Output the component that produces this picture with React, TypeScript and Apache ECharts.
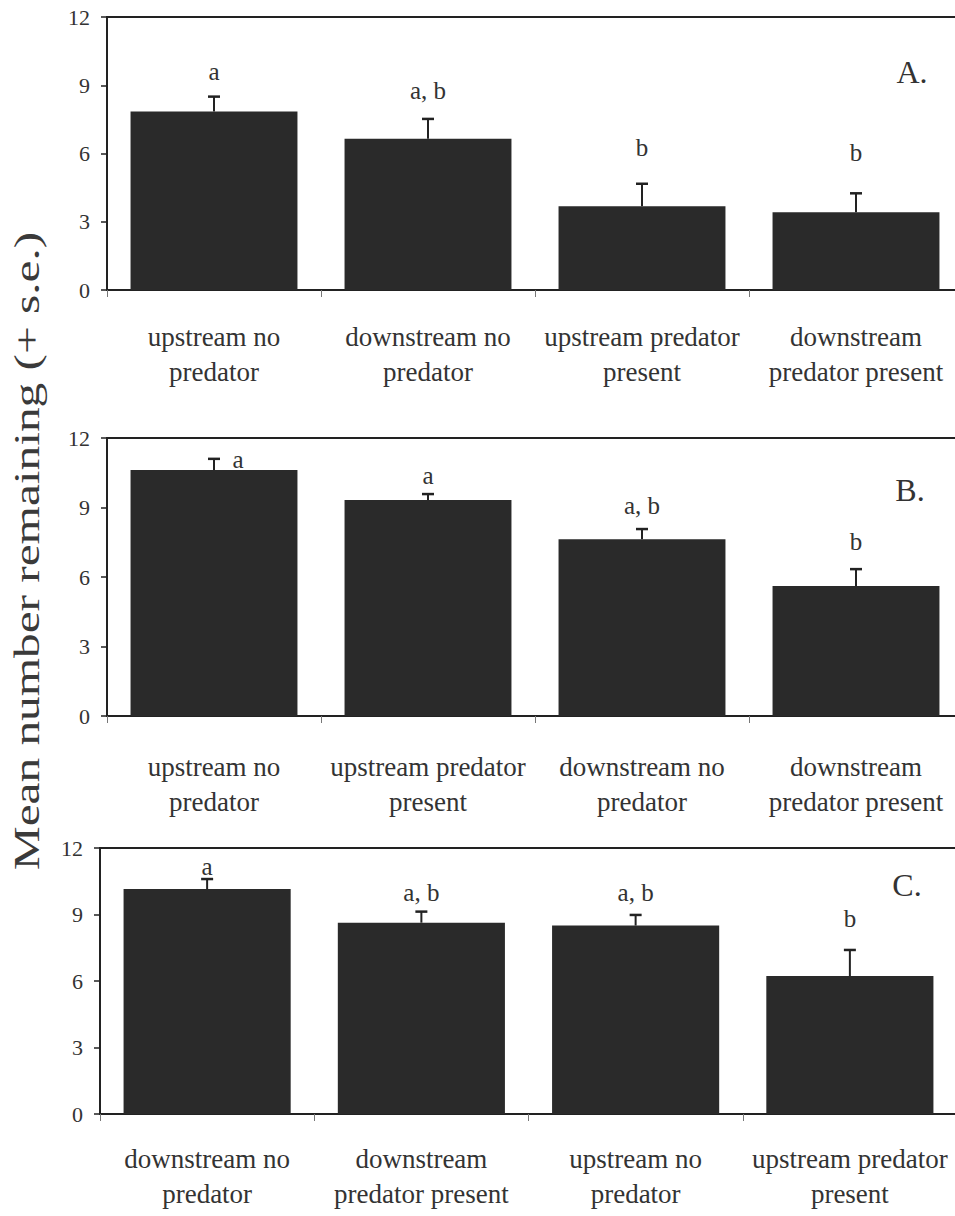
import React, { useEffect, useRef } from "react";
import * as echarts from "echarts";

// ---------- data ----------
const categoriesA = ["upstream no\npredator", "downstream no\npredator", "upstream predator\npresent", "downstream\npredator present"];
const meansA = [7.85, 6.65, 3.68, 3.42];
const seA = [0.65, 0.87, 0.99, 0.83];
const lettersA = ["a", "a, b", "b", "b"];
const letterYA = [9.6, 8.75, 6.25, 6.05];
const besideA = [false, false, false, false];

const categoriesB = ["upstream no\npredator", "upstream predator\npresent", "downstream no\npredator", "downstream\npredator present"];
const meansB = [10.62, 9.32, 7.63, 5.61];
const seB = [0.48, 0.26, 0.44, 0.73];
const lettersB = ["a", "a", "a, b", "b"];
const letterYB = [11.08, 10.4, 9.1, 7.55];
const besideB = [true, false, false, false];

const categoriesC = ["downstream no\npredator", "downstream\npredator present", "upstream no\npredator", "upstream predator\npresent"];
const meansC = [10.15, 8.63, 8.5, 6.22];
const seC = [0.45, 0.5, 0.48, 1.18];
const lettersC = ["a", "a, b", "a, b", "b"];
const letterYC = [11.15, 9.97, 9.97, 8.8];
const besideC = [false, false, false, false];

const panelNames = ["A.", "B.", "C."];
const yTicks = { min: 0, max: 12, interval: 3 };
const yTitle = "Mean number remaining (+ s.e.)";

// ---------- styling ----------
const SERIF = '"Liberation Serif", "Times New Roman", serif';
const TEXT = "#333";
const INK = "#222";
const BAR = "#2a2a2a";

const panels = [
  { cats: categoriesA, means: meansA, se: seA, letters: lettersA, ly: letterYA, beside: besideA, grid: { left: 107, top: 17, width: 856, height: 273 }, labelMargin: 29 },
  { cats: categoriesB, means: meansB, se: seB, letters: lettersB, ly: letterYB, beside: besideB, grid: { left: 107, top: 438, width: 856, height: 278 }, labelMargin: 33 },
  { cats: categoriesC, means: meansC, se: seC, letters: lettersC, ly: letterYC, beside: besideC, grid: { left: 100, top: 848, width: 857, height: 266 }, labelMargin: 27 },
];

export default function App() {
  const ref = useRef<HTMLDivElement>(null);
  useEffect(() => {
    if (!ref.current) return;
    const chart = echarts.init(ref.current, undefined, { renderer: "svg" });

    const grid: any[] = [];
    const xAxis: any[] = [];
    const yAxis: any[] = [];
    const series: any[] = [];

    panels.forEach((p, k) => {
      grid.push({
        ...p.grid,
        show: true,
        borderColor: INK,
        borderWidth: 2,
        backgroundColor: "transparent",
        containLabel: false,
        outerBoundsMode: "none",
      });
      xAxis.push({
        type: "category",
        gridIndex: k,
        data: p.cats,
        boundaryGap: true,
        axisLine: { show: true, lineStyle: { color: INK, width: 2 } },
        axisTick: { show: true, alignWithLabel: false, length: 7, lineStyle: { color: "#777", width: 1 } },
        axisLabel: {
          interval: 0,
          margin: p.labelMargin,
          color: TEXT,
          fontFamily: SERIF,
          fontSize: 27,
          lineHeight: 35,
          align: "center",
        },
        splitLine: { show: false },
      });
      yAxis.push({
        type: "value",
        gridIndex: k,
        min: yTicks.min,
        max: yTicks.max,
        interval: yTicks.interval,
        axisLine: { show: true, lineStyle: { color: INK, width: 2 } },
        axisTick: { show: true, length: 6, lineStyle: { color: INK, width: 1.5 } },
        axisLabel: { margin: 17, color: TEXT, fontFamily: SERIF, fontSize: 22 },
        splitLine: { show: false },
      });
      series.push({
        type: "bar",
        xAxisIndex: k,
        yAxisIndex: k,
        data: p.means,
        barCategoryGap: "22%",
        itemStyle: { color: BAR },
        silent: true,
      });
      series.push({
        type: "custom",
        xAxisIndex: k,
        yAxisIndex: k,
        clip: false,
        silent: true,
        data: p.means.map((m, i) => [i, m, p.se[i], p.ly[i]]),
        encode: { x: 0, y: 1 },
        renderItem: (params: any, api: any) => {
          const i = api.value(0);
          const m = api.value(1);
          const se = api.value(2);
          const ly = api.value(3);
          const base = api.coord([i, m]);
          const top = api.coord([i, m + se]);
          const lab = api.coord([i, ly]);
          const idx = params.dataIndex;
          const beside = p.beside[idx];
          const capHalf = 6;
          return {
            type: "group",
            children: [
              {
                type: "line",
                shape: { x1: base[0], y1: base[1], x2: top[0], y2: top[1] },
                style: { stroke: INK, lineWidth: 2 },
              },
              {
                type: "line",
                shape: { x1: top[0] - capHalf, y1: top[1], x2: top[0] + capHalf, y2: top[1] },
                style: { stroke: INK, lineWidth: 2.5 },
              },
              {
                type: "text",
                x: beside ? top[0] + 24 : lab[0],
                y: lab[1],
                style: {
                  text: p.letters[idx],
                  fill: TEXT,
                  font: `25px ${SERIF}`,
                  align: "center",
                  verticalAlign: "middle",
                  textAlign: "center",
                  textVerticalAlign: "middle",
                },
              },
            ],
          };
        },
      });
    });

    const panelLabelPos = [
      { x: 912, y: 72 },
      { x: 910, y: 490 },
      { x: 907, y: 885 },
    ];

    const graphic: any[] = panelNames.map((t, k) => ({
      type: "text",
      x: panelLabelPos[k].x,
      y: panelLabelPos[k].y,
      silent: true,
      style: {
        text: t,
        fill: TEXT,
        font: `32px ${SERIF}`,
        align: "center",
        verticalAlign: "middle",
        textAlign: "center",
        textVerticalAlign: "middle",
      },
    }));
    graphic.push({
      type: "text",
      x: 27,
      y: 551,
      rotation: Math.PI / 2,
      scaleX: 1.37,
      scaleY: 1,
      silent: true,
      style: {
        text: yTitle,
        fill: "#3a3a3a",
        font: `36px ${SERIF}`,
        align: "center",
        verticalAlign: "middle",
        textAlign: "center",
        textVerticalAlign: "middle",
      },
    });

    chart.setOption({
      animation: false,
      backgroundColor: "#ffffff",
      textStyle: { fontFamily: SERIF },
      grid,
      xAxis,
      yAxis,
      series,
      graphic,
    });

    return () => chart.dispose();
  }, []);

  return (
    <div
      ref={ref}
      style={{ position: "absolute", left: 0, top: 0, width: 955, height: 1216, overflow: "hidden" }}
    />
  );
}
